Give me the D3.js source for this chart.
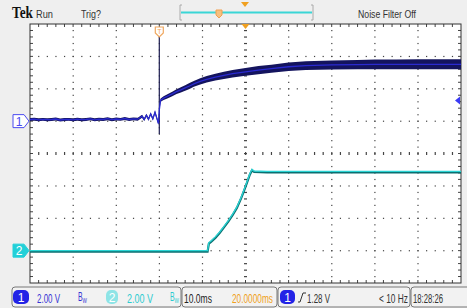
<!DOCTYPE html>
<html>
<head>
<meta charset="utf-8">
<script src="https://cdn.jsdelivr.net/npm/d3@7"></script>
<style>
  html, body { margin: 0; padding: 0; background: #efefef; }
  svg { display: block; font-family: "Liberation Sans", Arial, sans-serif; }
</style>
</head>
<body>
<svg id="scope"></svg>
<script>
const width = 467;
const height = 308;

// time in ms relative to trigger, volts per channel
const ch1Time   = [-30, -29, -28, -27, -26, -25, -24, -23, -22, -21, -20, -19, -18, -17, -16, -15, -14, -13, -12, -11, -10, -9, -8, -7, -6, -5, -4, -3.5, -3, -2.5, -2, -1.5, -1, -0.5, -0.2, 0, 0.3, 1, 2, 3, 4, 5, 6, 7, 8, 9.5, 11, 13, 15, 17, 20, 23, 26, 30, 34, 40, 46, 50, 55, 60, 65, 70];
const ch1Volts  = [0.10, 0.12, 0.08, 0.11, 0.09, 0.10, 0.13, 0.07, 0.10, 0.11, 0.08, 0.12, 0.09, 0.10, 0.14, 0.08, 0.12, 0.10, 0.15, 0.09, 0.13, 0.11, 0.16, 0.10, 0.14, 0.12, 0.30, 0.10, 0.36, 0.12, 0.45, 0.14, 0.55, 0.12, -0.15, 0.70, 1.30, 1.42, 1.55, 1.68, 1.82, 1.93, 2.05, 2.17, 2.30, 2.46, 2.58, 2.72, 2.83, 2.93, 3.04, 3.15, 3.24, 3.36, 3.43, 3.47, 3.49, 3.50, 3.51, 3.51, 3.51, 3.51];
const ch1Spread = [0.09, 0.09, 0.09, 0.09, 0.09, 0.09, 0.09, 0.09, 0.09, 0.09, 0.09, 0.09, 0.09, 0.09, 0.09, 0.09, 0.09, 0.09, 0.09, 0.09, 0.09, 0.09, 0.09, 0.09, 0.09, 0.09, 0.09, 0.09, 0.09, 0.09, 0.09, 0.09, 0.09, 0.09, 0.09, 0.09, 0.10, 0.12, 0.13, 0.14, 0.15, 0.16, 0.17, 0.18, 0.18, 0.19, 0.20, 0.21, 0.22, 0.23, 0.24, 0.25, 0.25, 0.26, 0.27, 0.28, 0.29, 0.30, 0.30, 0.31, 0.31, 0.31];
const ch1Glitch = [-0.79, 5.26];  // vertical spike at the trigger point

const ch2Time  = [-30, -20, -10, 0, 5, 11.2, 11.5, 12, 13, 14, 15, 16, 17, 18, 19, 20, 21, 21.5, 22, 25, 40, 55, 70];
const ch2Volts = [0.0, 0.0, 0.0, 0.0, 0.0, 0.0, 0.50, 0.60, 0.85, 1.15, 1.50, 1.85, 2.25, 2.70, 3.30, 4.00, 4.75, 5.02, 4.92, 4.90, 4.90, 4.90, 4.90];

const svg = d3.select('#scope').attr('width', width).attr('height', height);

const pLeft = 30, pRight = 461, pTop = 24, pBottom = 283;
const x = d3.scaleLinear().domain([-30, 70]).range([pLeft, pRight]);
const y1 = d3.scaleLinear().domain([-10, 6]).range([pBottom, pTop]);   // ch1 2 V/div
const y2 = d3.scaleLinear().domain([-2, 14]).range([pBottom, pTop]);   // ch2 2 V/div
const gx = d3.scaleLinear().domain([0, 10]).range([pLeft, pRight]);
const gy = d3.scaleLinear().domain([0, 8]).range([pTop, pBottom]);

// background + graticule area
svg.append('rect').attr('width', width).attr('height', height).attr('fill', '#efefef');
svg.append('rect').attr('x', pLeft).attr('y', pTop).attr('width', pRight - pLeft).attr('height', pBottom - pTop).attr('fill', '#fff');

const grid = svg.append('g').attr('fill', '#444');
d3.range(1, 10).filter(k => k !== 5).forEach(k => {
    d3.range(1, 40).forEach(j => {
        grid.append('rect').attr('x', gx(k) - 0.5).attr('y', gy(j / 5) - 0.5).attr('width', 1.2).attr('height', 1.2);
    });
});
d3.range(1, 8).filter(j => j !== 4).forEach(j => {
    d3.range(1, 50).forEach(i => {
        grid.append('rect').attr('x', gx(i / 5) - 0.5).attr('y', gy(j) - 0.5).attr('width', 1.2).attr('height', 1.2);
    });
});
// centre cross with ticks
d3.range(1, 40).forEach(j => {
    grid.append('rect').attr('x', gx(5) - 1.5).attr('y', gy(j / 5) - 0.5).attr('width', 3).attr('height', 1.2);
});
d3.range(1, 50).forEach(i => {
    grid.append('rect').attr('x', gx(i / 5) - 0.5).attr('y', gy(4) - 1.5).attr('width', 1.2).attr('height', 3);
});
// edge ticks
d3.range(1, 50).forEach(i => {
    grid.append('rect').attr('x', gx(i / 5) - 0.5).attr('y', pTop).attr('width', 1).attr('height', 3);
    grid.append('rect').attr('x', gx(i / 5) - 0.5).attr('y', pBottom - 3).attr('width', 1).attr('height', 3);
});
d3.range(1, 40).forEach(j => {
    grid.append('rect').attr('x', pLeft).attr('y', gy(j / 5) - 0.5).attr('width', 3).attr('height', 1);
    grid.append('rect').attr('x', pRight - 3).attr('y', gy(j / 5) - 0.5).attr('width', 3).attr('height', 1);
});
svg.append('rect').attr('x', pLeft).attr('y', pTop).attr('width', pRight - pLeft).attr('height', pBottom - pTop)
    .attr('fill', 'none').attr('stroke', '#333').attr('stroke-width', 1);

// channel 2 trace
const ch2 = ch2Time.map((t, i) => [t, ch2Volts[i]]);
const line2 = d3.line().x(d => x(d[0])).y(d => y2(d[1]));
svg.append('path').datum(ch2).attr('d', line2).attr('fill', 'none')
    .attr('stroke', '#0b6f70').attr('stroke-width', 2.2).attr('transform', 'translate(0,1)');
svg.append('path').datum(ch2).attr('d', line2).attr('fill', 'none')
    .attr('stroke', '#2ad4d4').attr('stroke-width', 1.3);

// channel 1 trace with envelope
const ch1 = ch1Time.map((t, i) => ({t: t, v: ch1Volts[i], s: ch1Spread[i]}));
svg.append('path').datum(ch1)
    .attr('d', d3.area().x(d => x(d.t)).y0(d => y1(d.v - d.s)).y1(d => y1(d.v + d.s)))
    .attr('fill', '#14145e');
svg.append('line').attr('x1', x(0)).attr('x2', x(0)).attr('y1', y1(ch1Glitch[0])).attr('y2', y1(ch1Glitch[1]))
    .attr('stroke', '#1c1c50').attr('stroke-width', 1.2);
svg.append('path').datum(ch1).attr('d', d3.line().x(d => x(d.t)).y(d => y1(d.v)))
    .attr('fill', 'none').attr('stroke', '#2a2ad0').attr('stroke-width', 1.3);

// ground markers
const marker = (yPos, labelText, filled, color) => {
    const g = svg.append('g').attr('transform', `translate(13,${yPos})`);
    g.append('path').attr('d', 'M0,-6.5 H11 L16,0 L11,6.5 H0 Z')
        .attr('fill', filled ? color : '#fff').attr('stroke', color).attr('stroke-width', 1);
    g.append('text').attr('x', 6).attr('y', 4.5).attr('text-anchor', 'middle')
        .attr('font-size', 12).attr('fill', filled ? '#fff' : color).text(labelText);
};
marker(y1(0), '1', false, '#4b4bf0');
marker(y2(0), '2', true, '#22d0d8');

// trigger level arrow (1.28 V on ch1)
svg.append('path').attr('d', `M${pRight - 6},${y1(1.28)} l5,-4 v8 Z`).attr('fill', '#3a3af5');

// trigger point marker and horizontal position
const trig = svg.append('g').attr('transform', `translate(${x(0)},${pTop + 3})`);
trig.append('path').attr('d', 'M-4,0 H4 V6 L0,10 L-4,6 Z').attr('fill', '#fff').attr('stroke', '#f0a860').attr('stroke-width', 1.2);
trig.append('text').attr('y', 7).attr('text-anchor', 'middle').attr('font-size', 7).attr('fill', '#f0a860').text('T');
svg.append('path').attr('d', `M${x(20) - 4},${pTop} h8 l-4,5 Z`).attr('fill', '#f0a020');

// text squeezed horizontally to a given width (the scope font is narrow)
const label = (x0, yBase, w, str, color, size, family, weight) => {
    const g = svg.append('g').attr('transform', `translate(${x0},${yBase})`);
    const t = g.append('text').attr('font-size', size || 13.5).attr('fill', color).text(str);
    if (family) t.attr('font-family', family);
    if (weight) t.attr('font-weight', weight);
    const natural = t.node().getComputedTextLength();
    t.attr('transform', `scale(${w / natural},1)`);
    return t;
};

// top status bar
const textCol = '#333';
label(12, 18, 21, 'Tek', '#111', 16, '"Liberation Serif", serif', 'bold');
label(36, 18, 17, 'Run', textCol, 11.5);
label(81, 18, 20, 'Trig?', textCol, 11.5);
label(358, 18, 58, 'Noise Filter Off', textCol, 11.5);

// record view
svg.append('path').attr('d', 'M182,5 H180 V20 H182 M311,5 H313 V20 H311').attr('fill', 'none').attr('stroke', '#aaa');
svg.append('line').attr('x1', 181).attr('x2', 312).attr('y1', 12.5).attr('y2', 12.5).attr('stroke', '#3ad6d6').attr('stroke-width', 2);
const rv = svg.append('g').attr('transform', 'translate(219,10)');
rv.append('path').attr('d', 'M-3,0 H3 V5 L0,8 L-3,5 Z').attr('fill', '#f6c080').attr('stroke', '#f0a050').attr('stroke-width', 1);
svg.append('path').attr('d', 'M241,2 h8 l-4,5 Z').attr('fill', '#f0a020');

// bottom readouts
const box = (x0, x1) => svg.append('rect').attr('x', x0).attr('y', 287).attr('width', x1 - x0).attr('height', 20).attr('rx', 3)
    .attr('fill', '#f2f2f2').attr('stroke', '#777').attr('stroke-width', 1);
box(12, 181); box(182, 277); box(278, 410); box(411, 470);

const badge = (x0, w, labelText, color) => {
    svg.append('rect').attr('x', x0).attr('y', 290).attr('width', w).attr('height', 14).attr('rx', 5).attr('fill', color);
    svg.append('text').attr('x', x0 + w / 2).attr('y', 302).attr('text-anchor', 'middle').attr('font-size', 12)
        .attr('fill', '#fff').text(labelText);
};
const bw = (x0, color) => {
    const g = svg.append('g').attr('transform', `translate(${x0},301)`);
    const t = g.append('text').attr('font-size', 12).attr('fill', color);
    t.append('tspan').text('B');
    t.append('tspan').attr('dy', 2).attr('font-size', 8).text('W');
    t.attr('transform', `scale(${9 / t.node().getComputedTextLength()},1)`);
};

badge(13, 16, '1', '#2323e6');
label(37, 303, 23, '2.00 V', '#3434d4');
bw(78, '#3434d4');
badge(106, 12, '2', '#8ee4e6');
label(127, 303, 26, '2.00 V', '#2ccbd0');
bw(170, '#2ccbd0');
label(184, 303, 28, '10.0ms', '#222');
label(232, 303, 41, '20.0000ms', '#f0a020');
badge(280, 15, '1', '#2323e6');
svg.append('path').attr('d', 'M298,302 h2 l3,-9 h3').attr('fill', 'none').attr('stroke', '#333').attr('stroke-width', 1);
label(307, 303, 23, '1.28 V', '#333');
label(379, 303, 29, '< 10 Hz', '#333');
label(413, 303, 30, '18:28:26', '#333');
</script>
</body>
</html>
